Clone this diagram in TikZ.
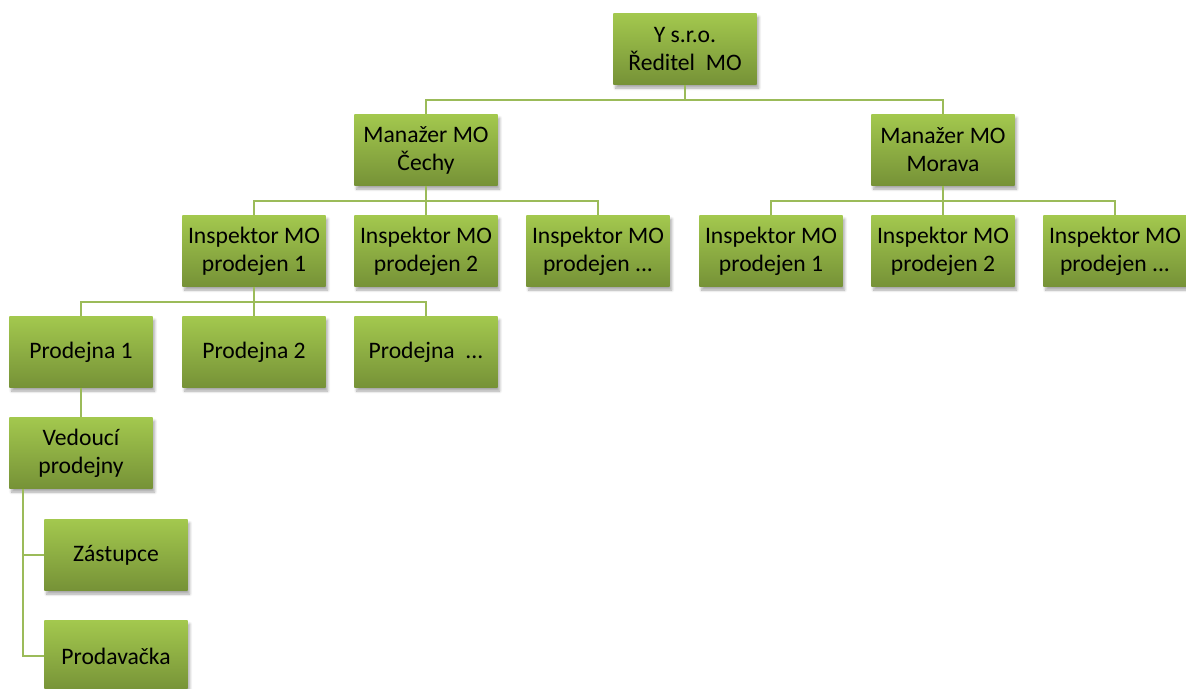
\documentclass[tikz,border=0pt]{standalone}
\usepackage{fontspec}
\setmainfont{Carlito}
\usetikzlibrary{shadows.blur}
\definecolor{boxtop}{RGB}{163,200,78}
\definecolor{boxbot}{RGB}{118,146,55}
\definecolor{wire}{RGB}{155,187,89}
\def\wire{\draw[wire,line width=1.1pt]}

\begin{document}
\begin{tikzpicture}[x=0.025cm,y=-0.025cm,
    unit/.style={rectangle,minimum width=3.575cm,minimum height=1.775cm,
      inner sep=0pt,align=center,top color=boxtop,bottom color=boxbot,
      font=\fontsize{16.8}{20}\selectfont,
      blur shadow={shadow xshift=1.5pt,shadow yshift=-2.5pt,
        shadow blur steps=6,shadow opacity=35}}]
  \useasboundingbox (0,0) rectangle (1186,689);
  % top
  \node[unit] (root) at (685,49) {Y s.r.o.\\Ředitel\ \ MO};
  \node[unit] (cechy) at (426,150) {Manažer MO\\Čechy};
  \node[unit] (morava) at (943,150) {Manažer MO\\Morava};
  % inspektori
  \node[unit] (ic1) at (254,251) {Inspektor MO\\prodejen 1};
  \node[unit] (ic2) at (426,251) {Inspektor MO\\prodejen 2};
  \node[unit] (ic3) at (598,251) {Inspektor MO\\prodejen ...};
  \node[unit] (im1) at (771,251) {Inspektor MO\\prodejen 1};
  \node[unit] (im2) at (943,251) {Inspektor MO\\prodejen 2};
  \node[unit] (im3) at (1115,251) {Inspektor MO\\prodejen ...};
  % prodejny
  \node[unit] (p1) at (81,352) {Prodejna 1};
  \node[unit] (p2) at (254,352) {Prodejna 2};
  \node[unit] (p3) at (426,352) {Prodejna\ \ ...};
  \node[unit] (vedouci) at (81,453) {Vedoucí\\prodejny};
  \node[unit] (zastupce) at (116,555) {Zástupce};
  \node[unit] (prodavacka) at (116,656) {Prodavačka};
  % links
  \wire (root.south) -- ++(0,15) -| (cechy.north);
  \wire (root.south) -- ++(0,15) -| (morava.north);
  \wire (cechy.south) -- ++(0,15) -| (ic1.north);
  \wire (cechy.south) -- (ic2.north);
  \wire (cechy.south) -- ++(0,15) -| (ic3.north);
  \wire (morava.south) -- ++(0,15) -| (im1.north);
  \wire (morava.south) -- (im2.north);
  \wire (morava.south) -- ++(0,15) -| (im3.north);
  \wire (ic1.south) -- ++(0,15) -| (p1.north);
  \wire (ic1.south) -- (p2.north);
  \wire (ic1.south) -- ++(0,15) -| (p3.north);
  \wire (p1.south) -- (vedouci.north);
  \coordinate (spine) at ([shift={(14,0)}]vedouci.south west);
  \wire (spine) |- (zastupce.west);
  \wire (spine) |- (prodavacka.west);
\end{tikzpicture}
\end{document}
